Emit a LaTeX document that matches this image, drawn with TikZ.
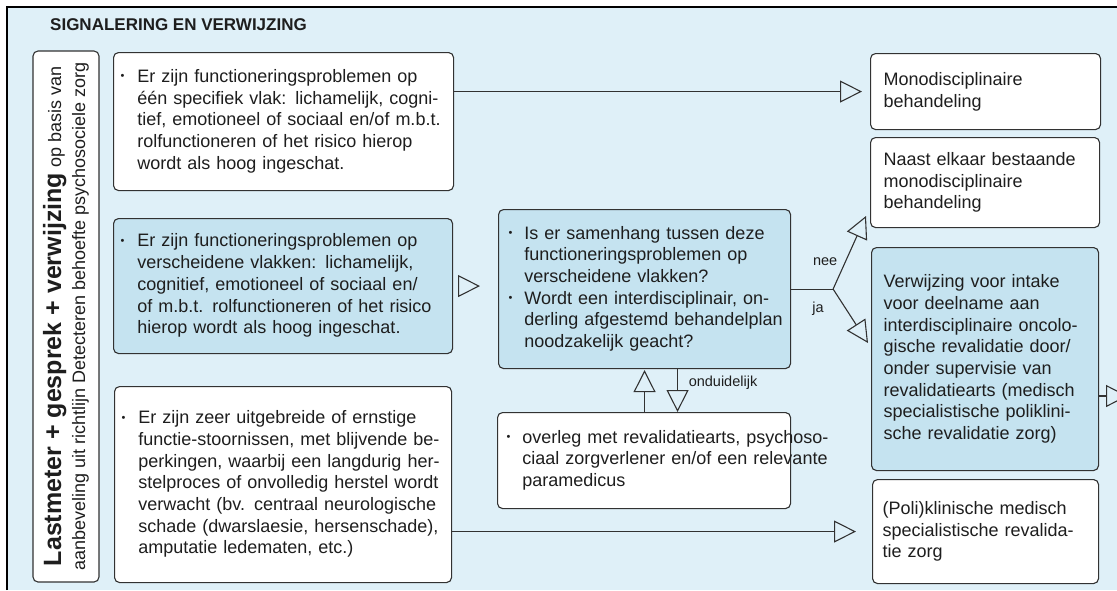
\documentclass[tikz,border=0pt]{standalone}
\usepackage{fontspec}
\setmainfont{Liberation Sans}
\usetikzlibrary{arrows.meta,calc}
\definecolor{bgblue}{RGB}{223,240,248}
\definecolor{boxblue}{RGB}{197,227,240}
\definecolor{edge}{RGB}{50,50,50}
\definecolor{txt}{RGB}{30,30,30}
\newcommand{\bul}{\raisebox{2.5pt}{\fontsize{11}{11}\selectfont\textbullet}}
\begin{document}
\begin{tikzpicture}[x=1pt,y=-1pt,
  box/.style={draw=edge, line width=1.1pt, rounded corners=5pt, fill=white, align=left, anchor=north west, inner ysep=0pt, text=txt, font=\fontsize{18}{21.7}\selectfont},
  bbox/.style={box, fill=boxblue},
  arr/.style={draw=edge, line width=1.1pt, -{Triangle[open, length=22pt, width=22pt]}},
  conn/.style={draw=edge, line width=1.1pt},
  lbl/.style={font=\fontsize{14.5}{16}\selectfont, text=txt, inner sep=0pt}
]
\useasboundingbox (0,0) rectangle (1117,590);
\clip (0,0) rectangle (1117,590);
\fill[white] (0,0) rectangle (1117,590);
\fill[bgblue] (7,7) rectangle (1117,590);
\draw[black, line width=1.5pt] (7,590) -- (7,7) -- (1120,7);

\node[anchor=west, font=\fontsize{17}{20}\selectfont\bfseries, text=txt, inner sep=0pt] (title) at (50,25) {SIGNALERING EN VERWIJZING};

% left rotated box
\node[draw=edge, line width=1.1pt, rounded corners=5pt, fill=white, rotate=90, minimum width=531pt, minimum height=66pt, inner sep=0pt, align=center, text=txt, font=\fontsize{18}{24}\selectfont] (last) at (66,316.5)
{{\fontsize{25}{24}\selectfont\bfseries Lastmeter + gesprek + verwijzing} op basis van\\aanbeveling uit richtlijn Detecteren behoefte psychosociele zorg};

% left column
\node[box, inner xsep=7pt, text width=326pt, minimum height=138pt] (box1) at (113,52) {%
\begin{tabular}{@{}l@{\hspace{13pt}}l@{}}
\bul & Er zijn functioneringsproblemen op\\
 & één specifiek vlak: lichamelijk, cogni-\\
 & tief, emotioneel of sociaal en/of m.b.t.\\
 & rolfunctioneren of het risico hierop\\
 & wordt als hoog ingeschat.
\end{tabular}};

\node[bbox, inner xsep=7pt, text width=325pt, minimum height=135pt] (box2) at (113,218) {%
\begin{tabular}{@{}l@{\hspace{13pt}}l@{}}
\bul & Er zijn functioneringsproblemen op\\
 & verscheidene vlakken: lichamelijk,\\
 & cognitief, emotioneel of sociaal en/\\
 & of m.b.t. rolfunctioneren of het risico\\
 & hierop wordt als hoog ingeschat.
\end{tabular}};

\node[box, inner xsep=7pt, text width=323pt, minimum height=196pt] (box3) at (114,386) {%
\begin{tabular}{@{}l@{\hspace{13pt}}l@{}}
\bul & Er zijn zeer uitgebreide of ernstige\\
 & functie-stoornissen, met blijvende be-\\
 & perkingen, waarbij een langdurig her-\\
 & stelproces of onvolledig herstel wordt\\
 & verwacht (bv. centraal neurologische\\
 & schade (dwarslaesie, hersenschade),\\
 & amputatie ledematen, etc.)
\end{tabular}};

% middle column
\node[bbox, inner xsep=10pt, text width=272pt, minimum height=159pt] (mid) at (498,209) {%
\begin{tabular}{@{}l@{\hspace{12pt}}l@{}}
\bul & Is er samenhang tussen deze\\
 & functioneringsproblemen op\\
 & verscheidene vlakken?\\
\bul & Wordt een interdisciplinair, on-\\
 & derling afgestemd behandelplan\\
 & noodzakelijk geacht?
\end{tabular}};

\node[box, inner xsep=9pt, text width=275pt, minimum height=96pt] (overleg) at (497,412) {%
\begin{tabular}{@{}l@{\hspace{12pt}}l@{}}
\bul & overleg met revalidatiearts, psychoso-\\
 & ciaal zorgverlener en/of een relevante\\
 & paramedicus
\end{tabular}};

% right column
\node[box, inner xsep=13pt, text width=204pt, minimum height=76pt] (mono) at (870,53) {Monodisciplinaire\\behandeling};
\node[box, inner xsep=13pt, text width=203pt, minimum height=90pt] (naast) at (870,137) {Naast elkaar bestaande\\monodisciplinaire\\behandeling};
\node[bbox, inner xsep=12pt, text width=203pt, minimum height=223pt] (verw) at (871,247) {Verwijzing voor intake\\voor deelname aan\\interdisciplinaire oncolo-\\gische revalidatie door/\\onder supervisie van\\revalidatiearts (medisch\\specialistische poliklini-\\sche revalidatie zorg)};
\node[box, inner xsep=10pt, text width=206pt, minimum height=104pt] (poli) at (872,479) {(Poli)klinische medisch\\specialistische revalida-\\tie zorg};

% connectors
\draw[arr, shorten >=8pt] (box1.east |- mono.west) -- (mono.west);
\draw[arr, shorten >=16pt] (box3.east |- poli.west) -- (poli.west);
\draw[arr, shorten <=5pt, shorten >=18pt] (box2.east) -- (box2.east -| mid.west);

\coordinate (j) at ($(mid.east)+(42,0)$);
\coordinate (nt) at (866,216);
\coordinate (jt) at (868,343);
\draw[conn] (mid.east) -- (j);
\draw[arr] (j) -- (nt);
\draw[arr] (j) -- (jt);
\node[lbl] (nee) at ($(j)+(-8,-27)$) {nee};
\node[lbl] (ja) at ($(j)+(-15,20)$) {ja};

\draw[arr, shorten >=1pt] (overleg.north -| mid.south) -- (mid.south);
\draw[arr] ([xshift=33pt]mid.south) -- ([xshift=33pt]mid.south |- overleg.north);
\node[lbl, anchor=west] (ond) at ($(mid.south)+(44,14)$) {onduidelijk};

\coordinate (rx) at (1128,396);
\draw[arr] (verw.east |- rx) -- (rx);
\end{tikzpicture}
\end{document}
